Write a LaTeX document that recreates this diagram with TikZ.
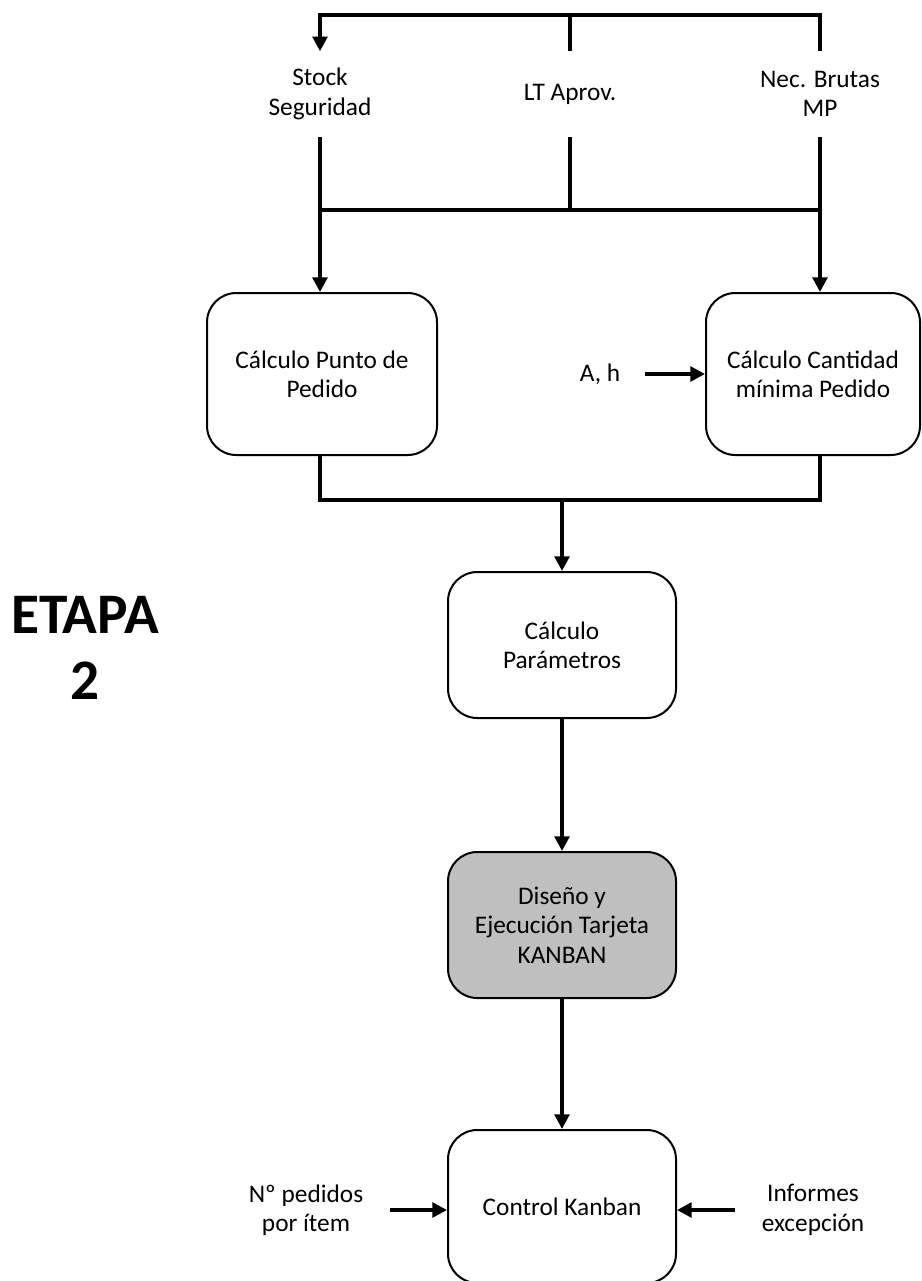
\documentclass[tikz,border=0pt]{standalone}
\usepackage{fontspec}
\setmainfont{Carlito}
\usetikzlibrary{arrows.meta}
\definecolor{boxgray}{HTML}{BFBFBF}
\begin{document}
\begin{tikzpicture}[x=0.75pt,y=-0.75pt,
  every node/.style={font=\fontsize{19}{22}\selectfont, align=center, inner sep=0pt},
  procbox/.style={draw, line width=1.5pt, rounded corners=22pt, fill=white},
  lbl/.style={minimum height=63.75pt},
  conn/.style={line width=3pt},
  arr/.style={line width=3pt, -{Triangle[length=11pt,width=11pt]}},
  stagelbl/.style={font=\fontsize{43}{50}\selectfont\bfseries}]
\useasboundingbox (0,0) rectangle (921,1281);

% top inputs
\node[lbl] (ss) at (320,94) {Stock\\Seguridad};
\node[lbl] (lt) at (570,94) {LT Aprov.};
\node[lbl] (nb) at (820,94) {Nec. Brutas\\MP};
\coordinate (tl) at (320,15);
\coordinate (tm) at (570,15);
\coordinate (tr) at (820,15);
\coordinate (bl) at (320,210);
\coordinate (bm) at (570,210);
\coordinate (br) at (820,210);

% boxes
\node[procbox, minimum width=172.5pt, minimum height=121.5pt] (ppd) at (322,374) {Cálculo Punto de\\Pedido};
\node[procbox, minimum width=160.5pt, minimum height=121.5pt] (cmp) at (813,374) {Cálculo Cantidad\\mínima Pedido};
\node[procbox, minimum width=171pt, minimum height=109.5pt] (par) at (562,645) {Cálculo\\Parámetros};
\node[procbox, fill=boxgray, minimum width=171pt, minimum height=109.5pt] (kan) at (562,925) {Diseño y\\Ejecución Tarjeta\\KANBAN};
\node[procbox, minimum width=171pt, minimum height=114.75pt] (ctl) at (562,1206.5) {Control Kanban};

\node[minimum width=67.5pt] (ah) at (600,374) {A, h};
\node[minimum width=126pt] (np) at (306,1210) {Nº pedidos\\por ítem};
\node[minimum width=117pt] (inf) at (813,1210) {Informes\\excepción};

\node[stagelbl] (etapa) at (85,648) {ETAPA\\2};

% top feedback loop
\draw[conn] (nb.north) -- (tr) -- (tm);
\draw[arr] (tm) -- (tl) -- (ss.north);
\draw[conn] (lt.north) -- (tm);

% collectors
\draw[conn] (ss.south) -- (bl);
\draw[conn] (lt.south) -- (bm);
\draw[conn] (nb.south) -- (br);
\draw[conn] (bl) -- (br);
\draw[arr] (bl) -- (bl |- ppd.north);
\draw[arr] (br) -- (br |- cmp.north);

\draw[arr] (ah.east) -- (cmp.west);

% merge to parameters
\coordinate (ml) at (320,500);
\coordinate (mr) at (820,500);
\coordinate (mm) at (562,500);
\draw[conn] (ppd.south -| ml) -- (ml) -- (mr) -- (cmp.south -| mr);
\draw[arr] (mm) -- (par.north);

\draw[arr] (par.south) -- (kan.north);
\draw[arr] (kan.south) -- (ctl.north);

\draw[arr] (np.east) -- (np.east -| ctl.west);
\draw[arr] (inf.west) -- (inf.west -| ctl.east);
\end{tikzpicture}
\end{document}
